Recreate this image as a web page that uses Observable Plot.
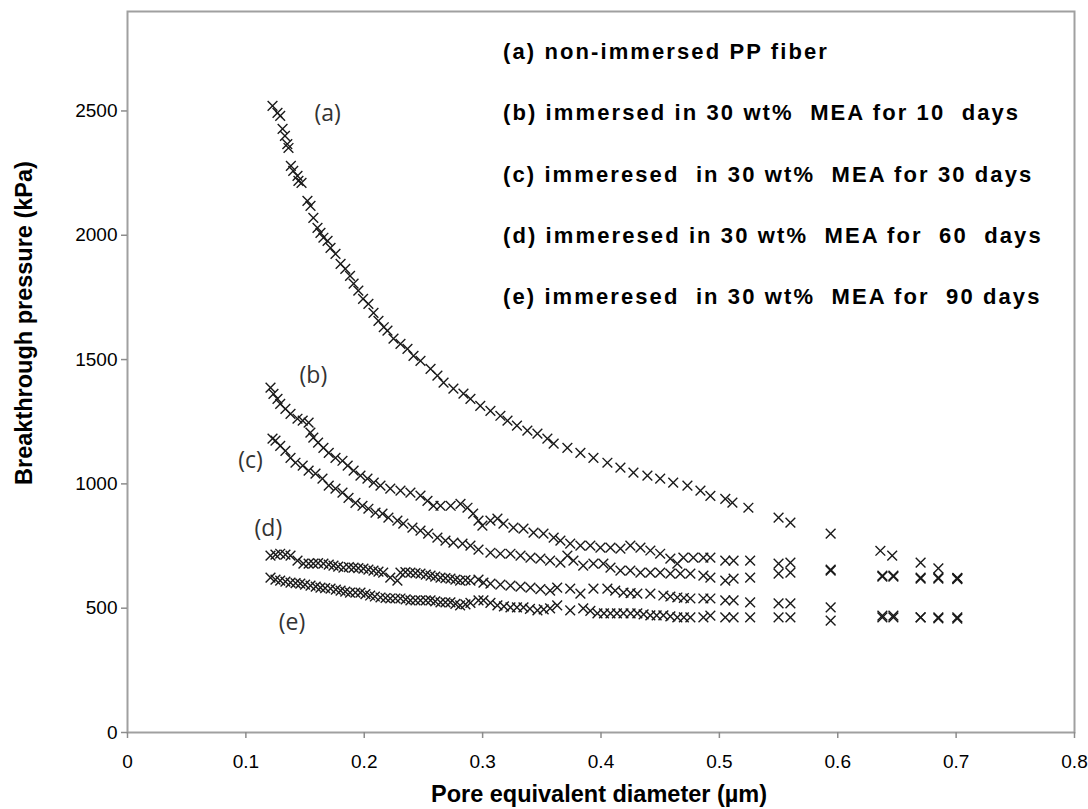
<!DOCTYPE html>
<html>
<head>
<meta charset="utf-8">
<script src="https://cdn.jsdelivr.net/npm/d3@7"></script>
<script src="https://cdn.jsdelivr.net/npm/@observablehq/plot@0.6"></script>
<style>
  html, body { margin: 0; padding: 0; background: #fff; }
  #wrap { position: relative; width: 1088px; height: 809px; }
  #legend {
    position: absolute; left: 503px; top: 39px;
    font-family: "Liberation Sans", Arial, sans-serif; font-weight: bold;
    font-size: 22px; letter-spacing: 2.1px; color: #000; white-space: pre;
  }
  #legend div { height: 61.3px; line-height: 26px; }
</style>
</head>
<body>
<div id="wrap">
  <div id="chart"></div>
  <div id="legend"></div>
</div>
<script>
// Breakthrough pressure (kPa) versus pore equivalent diameter (µm), PP fibers
const seriesA = [[0.1225,2520],[0.1267,2492],[0.129,2480],[0.131,2428],[0.133,2400],[0.135,2367],[0.136,2351],[0.138,2279],[0.140,2259],[0.1436,2239],[0.1444,2219],[0.147,2211],[0.152,2138],[0.1546,2118],[0.157,2070],[0.1605,2030],[0.163,2010],[0.1655,1990],[0.169,1977],[0.1715,1949],[0.1757,1925],[0.180,1885],[0.184,1865],[0.188,1837],[0.191,1805],[0.195,1777],[0.199,1744],[0.2035,1724],[0.2078,1688],[0.212,1656],[0.2165,1630],[0.2196,1616],[0.2247,1584],[0.2306,1563],[0.2365,1543],[0.2416,1515],[0.2475,1495],[0.256,1463],[0.2618,1435],[0.267,1407],[0.2753,1383],[0.2838,1363],[0.2897,1342],[0.298,1314],[0.3066,1294],[0.315,1274],[0.321,1254],[0.329,1234],[0.3378,1214],[0.3463,1202],[0.3547,1182],[0.360,1162],[0.3716,1145],[0.3826,1125],[0.3936,1105],[0.4054,1085],[0.4164,1065],[0.4274,1045],[0.4392,1033],[0.450,1021],[0.461,1005],[0.473,993],[0.484,973],[0.4924,952],[0.505,940],[0.511,925],[0.5245,904],[0.550,864],[0.560,844],[0.594,800],[0.636,731],[0.646,711],[0.670,683],[0.685,660],[0.701,622]];
const seriesB = [[0.1208,1387],[0.1233,1362],[0.1267,1342],[0.129,1322],[0.1334,1302],[0.1377,1282],[0.1436,1262],[0.148,1254],[0.153,1246],[0.1545,1206],[0.157,1186],[0.161,1166],[0.1655,1145],[0.170,1125],[0.1757,1105],[0.1816,1093],[0.186,1073],[0.191,1053],[0.1968,1033],[0.2027,1021],[0.208,1005],[0.2137,993],[0.222,981],[0.2306,973],[0.239,965],[0.2475,953],[0.2534,932],[0.2585,912],[0.2644,912],[0.273,912],[0.2813,920],[0.2872,904],[0.292,880],[0.2965,852],[0.2998,832],[0.3066,852],[0.3125,860],[0.3176,840],[0.326,824],[0.3345,820],[0.343,804],[0.3514,800],[0.360,784],[0.3657,772],[0.374,760],[0.3826,752],[0.391,752],[0.3995,744],[0.408,744],[0.4164,740],[0.4248,752],[0.4333,744],[0.4417,732],[0.450,719],[0.4586,699],[0.4645,679],[0.4696,703],[0.478,703],[0.4865,703],[0.4924,703],[0.505,691],[0.512,691],[0.526,691],[0.550,679],[0.560,683],[0.594,655],[0.6377,631],[0.647,631],[0.670,623],[0.685,623],[0.701,620]];
const seriesC = [[0.1225,1182],[0.125,1174],[0.129,1153],[0.1334,1133],[0.1377,1105],[0.1419,1085],[0.148,1073],[0.153,1053],[0.1588,1041],[0.1647,1021],[0.170,993],[0.1757,981],[0.1816,965],[0.1867,944],[0.1926,924],[0.1985,912],[0.2035,900],[0.2095,884],[0.2154,880],[0.2204,864],[0.228,852],[0.233,840],[0.2407,824],[0.2475,812],[0.254,800],[0.2618,784],[0.2686,772],[0.2753,764],[0.283,760],[0.2897,752],[0.2965,736],[0.3066,723],[0.315,719],[0.3235,719],[0.332,711],[0.3404,703],[0.3488,699],[0.357,691],[0.3657,683],[0.3716,711],[0.3767,691],[0.385,671],[0.3936,679],[0.402,679],[0.408,663],[0.4164,651],[0.4248,651],[0.4333,643],[0.4417,643],[0.450,643],[0.4586,639],[0.467,639],[0.4755,639],[0.4865,631],[0.4924,623],[0.505,611],[0.512,619],[0.526,623],[0.550,639],[0.560,643],[0.594,651],[0.6377,627],[0.647,627],[0.670,619],[0.685,619],[0.701,617]];
const seriesD = [[0.1208,711],[0.125,715],[0.129,719],[0.1334,715],[0.1377,711],[0.1436,691],[0.1486,679],[0.153,679],[0.157,679],[0.161,681],[0.1655,679],[0.170,675],[0.174,671],[0.178,667],[0.1824,663],[0.187,665],[0.191,663],[0.195,661],[0.1993,659],[0.2035,655],[0.2078,651],[0.212,647],[0.216,643],[0.222,623],[0.228,611],[0.2306,643],[0.2348,645],[0.239,643],[0.2433,641],[0.2475,639],[0.252,635],[0.256,631],[0.260,627],[0.2644,623],[0.2686,621],[0.2728,619],[0.277,615],[0.281,611],[0.2855,613],[0.2897,611],[0.2965,615],[0.3007,603],[0.3066,599],[0.315,595],[0.3235,591],[0.332,587],[0.3404,583],[0.3488,577],[0.357,571],[0.363,583],[0.374,579],[0.3826,559],[0.3936,579],[0.4054,579],[0.412,571],[0.419,563],[0.425,561],[0.4307,559],[0.4417,559],[0.4527,551],[0.4586,547],[0.4645,543],[0.470,541],[0.4755,539],[0.4865,539],[0.4924,539],[0.505,531],[0.512,531],[0.526,523],[0.550,519],[0.560,519],[0.594,503],[0.6377,470],[0.647,470],[0.670,463],[0.685,463],[0.701,463]];
const seriesE = [[0.1208,623],[0.125,615],[0.129,611],[0.1334,607],[0.1377,603],[0.142,601],[0.146,599],[0.150,595],[0.1546,591],[0.159,587],[0.163,583],[0.167,581],[0.1715,579],[0.176,575],[0.180,571],[0.184,567],[0.188,563],[0.1925,563],[0.1968,563],[0.201,557],[0.205,551],[0.209,547],[0.2137,543],[0.218,541],[0.222,539],[0.2263,539],[0.2306,539],[0.235,535],[0.239,531],[0.2433,531],[0.2475,531],[0.252,531],[0.256,531],[0.260,527],[0.2644,523],[0.2686,523],[0.2728,523],[0.277,517],[0.281,511],[0.2855,515],[0.2897,521],[0.2965,531],[0.3007,531],[0.3066,521],[0.3125,511],[0.318,507],[0.3235,503],[0.329,503],[0.3345,503],[0.340,497],[0.3463,491],[0.3516,495],[0.357,499],[0.363,511],[0.374,491],[0.385,499],[0.391,489],[0.397,479],[0.4025,479],[0.408,479],[0.4135,479],[0.419,479],[0.425,479],[0.4307,479],[0.436,475],[0.4417,471],[0.447,471],[0.4527,471],[0.4586,467],[0.4645,463],[0.470,463],[0.4755,463],[0.4865,463],[0.4924,470],[0.505,463],[0.512,463],[0.526,463],[0.550,463],[0.560,463],[0.594,450],[0.6377,463],[0.647,463],[0.670,463],[0.685,459],[0.701,458]];

const seriesIds = ["a", "b", "c", "d", "e"];
const seriesValues = [seriesA, seriesB, seriesC, seriesD, seriesE];

// Curve tags written next to each curve, placed in data units
const tagText = ["(a)", "(b)", "(c)", "(d)", "(e)"];
const tagX = [0.169, 0.157, 0.104, 0.119, 0.139];
const tagY = [2490, 1435, 1093, 820, 442];

const legendLines = [
  "(a) non-immersed PP fiber",
  "(b) immersed in 30 wt%  MEA for 10  days",
  "(c) immeresed  in 30 wt%  MEA for 30 days",
  "(d) immeresed in 30 wt%  MEA for  60  days",
  "(e) immeresed  in 30 wt%  MEA for  90 days"
];

const xTicks = [0, 0.1, 0.2, 0.3, 0.4, 0.5, 0.6, 0.7, 0.8];
const yTicks = [0, 500, 1000, 1500, 2000, 2500];
const xTitle = "Pore equivalent diameter (µm)";
const yTitle = "Breakthrough pressure (kPa)";

const points = seriesValues.flatMap((s, i) => s.map(([x, y]) => ({series: seriesIds[i], x, y})));
const tags = tagText.map((t, i) => ({t, x: tagX[i], y: tagY[i]}));

const font = '"Liberation Sans", Arial, sans-serif';

const chart = Plot.plot({
  width: 1088,
  height: 809,
  marginLeft: 127,
  marginRight: 14,
  marginTop: 11,
  marginBottom: 77,
  style: {fontFamily: font, background: "#fff", color: "#000"},
  x: {domain: [0, 0.8]},
  y: {domain: [0, 2900]},
  marks: [
    Plot.frame({stroke: "#a0a0a0", strokeWidth: 2}),
    Plot.axisX({ticks: xTicks, tickSize: 6, tickPadding: 16, fontSize: 19,
      tickFormat: d => String(+d.toFixed(1)), label: null}),
    Plot.axisY({ticks: yTicks, tickSize: 6, tickPadding: 4, fontSize: 19,
      tickFormat: d => String(d), label: null}),
    Plot.dot(points, {x: "x", y: "y", symbol: "times", r: 4.5, stroke: "#1a1a1a", strokeWidth: 1.4}),
    Plot.text(tags, {x: "x", y: "y", text: "t", fontSize: 23, fill: "#333",
      fontFamily: '"Open Sans", "Liberation Sans", sans-serif'}),
    // axis titles, offset from the frame edges
    Plot.text([xTitle], {frameAnchor: "bottom", dy: 69, dx: -2, fontSize: 23.5, fontWeight: "bold"}),
    Plot.text([yTitle], {frameAnchor: "left", textAnchor: "middle", rotate: -90, dx: -103, dy: -49,
      fontSize: 23.5, fontWeight: "bold"})
  ]
});

// axis tick marks in a mid gray
chart.querySelectorAll('g[aria-label="x-axis tick"], g[aria-label="y-axis tick"]').forEach(g => {
  g.setAttribute("stroke", "#8c8c8c");
  g.setAttribute("stroke-width", "1.5");
});

document.getElementById("chart").appendChild(chart);

const legend = document.getElementById("legend");
legendLines.forEach(line => {
  const row = document.createElement("div");
  row.textContent = line;
  legend.appendChild(row);
});
</script>
</body>
</html>
